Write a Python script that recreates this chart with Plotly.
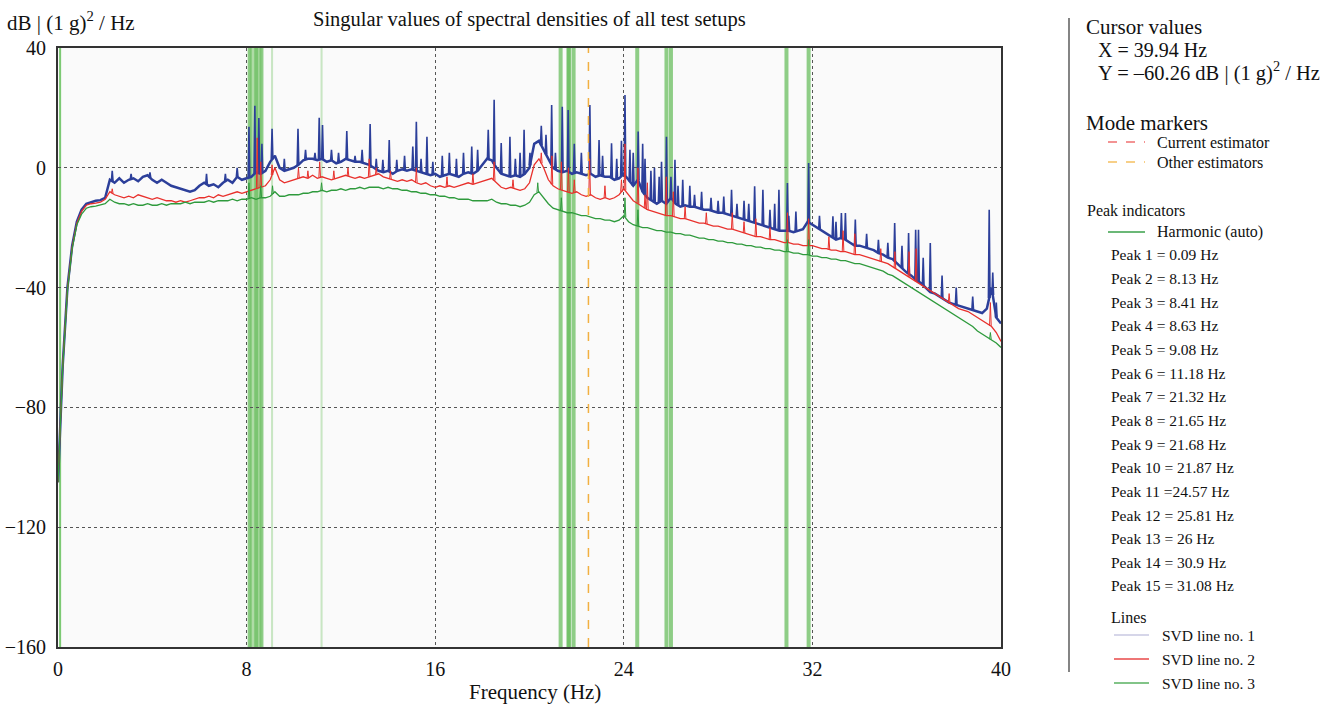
import numpy as np
import plotly.graph_objects as go

# ---------------- data ----------------
# base sampling grid of the spectra (Hz)
freq_grid = np.round(np.arange(0, 40.0001, 0.2), 1)

svd1_base = [
    -105, -66, -40, -26, -18, -14, -12, -11.5, -11, -10.8,
    -10, -4, -5, -3.5, -5, -4, -3.5, -4.5, -3, -2.5,
    -4, -5, -4, -5, -6, -6.5, -7, -7.5, -8, -7.5,
    -6, -5, -6, -5.5, -6.5, -5, -4, -5, -3, -4,
    -3.5, -3, -1.5, -2, -1, 2, 4, 0, -1, -0.5,
    0, 1, 2.5, 3, 3, 2.5, 3, 2, 2.5, 1.5,
    2, 3, 2.5, 2, 2, 1.5, 1, 0, -1, -1.5,
    -1, -2, -1, -0.5, -1, -0.5, -1, -1.5, -2, -2.5,
    -2, -3, -2.5, -2, -2.5, -3, -2, -1.5, -2, -1,
    1, 3, 2.5, 0, -2, -2.5, -3, -2.5, -3, -2,
    0, 8, 9, 6, 3, 0, -1, -1.5, -1, -2,
    -1.5, -2, -2.5, -2, -3, -2.5, -3, -3, -4, -3.5,
    -2, -4, -6, -4, -8, -10, -11, -12, -11, -12,
    -10, -12, -13, -12.5, -13, -13, -13.5, -14, -14, -14.5,
    -15, -15, -15.5, -16, -16.5, -17, -17.5, -18, -18.5, -19,
    -19.5, -20, -20.5, -21, -21, -21, -21.5, -21, -20.5, -18,
    -19, -20, -21, -22, -23, -24, -23.5, -24, -25, -26,
    -26, -26.5, -27, -27.5, -28.5, -29, -30, -30.5, -32, -33.5,
    -35, -36, -37.5, -38.5, -40, -41.5, -42, -43, -44, -45,
    -45.5, -46, -46.5, -47, -47.5, -48, -48.5, -47, -40, -50,
    -52,
]
svd2_base = [
    -105, -66, -40.5, -26.5, -18.5, -14.5, -12.5, -12, -11.8, -11.5,
    -10.5, -8, -9, -9.5, -10, -9.5, -10, -9, -9.5, -10,
    -10.5, -10, -10.5, -11, -11, -11.5, -11, -11.5, -11, -10.5,
    -10, -10, -9.5, -10, -9, -9.5, -9, -8.5, -8, -8.5,
    -8, -7.5, -7, -6.5, -6, -4, 0, -4, -5, -4.5,
    -4, -3.5, -3, -3.5, -2.5, -3.5, -3, -3.5, -4, -3.5,
    -3, -2.5, -3, -3.5, -3, -3.5, -3, -2.5, -2, -3,
    -3.5, -4, -4.5, -4, -4.5, -4, -5, -5.5, -5, -6,
    -6.5, -6, -6.5, -6, -6.5, -6, -5.5, -5, -5.5, -5,
    -4.5, -4, -3.5, -5, -6.5, -7, -6.5, -7, -7.5, -7,
    -5, 1, 3, 0, -4, -6, -7, -7.5, -8, -8.5,
    -8, -9, -9.5, -9, -10, -10.5, -10, -10.5, -10, -9,
    -7, -9, -11, -12, -13, -14, -14.5, -15, -15.5, -16,
    -16, -16.5, -17, -17, -17.5, -18, -18.5, -18.5, -19, -19.5,
    -19.5, -20, -20.5, -20.5, -21, -21.5, -22, -22.5, -23, -23,
    -23.5, -24, -24, -24.5, -25, -25, -25.5, -25.5, -26, -26,
    -26, -26.5, -27, -27, -27.5, -27.5, -28, -28, -28.5, -29,
    -29, -29.5, -30, -30.5, -31, -31.5, -32, -33, -34, -35,
    -36, -37, -38, -39, -40, -41, -42, -43, -44, -45,
    -46, -47, -47.5, -48, -49, -50, -51, -52, -53, -55,
    -58,
]
svd3_base = [
    -105, -66.5, -41, -27, -19, -15.5, -13.5, -13, -12.8, -12.5,
    -12, -10.5, -11.5, -12, -12, -12.5, -12, -12.5, -12.5, -12,
    -12.5, -12.5, -12, -12.5, -12, -12, -12, -11.5, -12, -11.5,
    -11.5, -11.5, -11, -11.5, -11, -11, -11, -10.5, -11, -10.5,
    -10.5, -10, -10.5, -10, -10, -9.5, -8, -9.5, -9.5, -9,
    -9, -9, -8.5, -8.5, -8, -8, -7.5, -8, -7.5, -7.5,
    -7, -7.5, -7, -7, -6.5, -7, -6.5, -6.5, -6.5, -7,
    -6.5, -7, -7, -7.5, -7.5, -8, -8, -8.5, -8.5, -9,
    -9, -9.5, -9.5, -10, -10, -10.5, -10.5, -10.5, -11, -11,
    -11, -11, -10.5, -11.5, -12, -12, -12.5, -12.5, -13, -12.5,
    -11.5, -9, -8, -10, -12, -13.5, -14, -14.5, -15, -15,
    -15.5, -16, -16, -16.5, -17, -17, -17.5, -17.5, -18, -17.5,
    -16, -18, -19, -19.5, -20, -20, -20.5, -21, -21, -21.5,
    -21.5, -22, -22, -22.5, -22.5, -23, -23.5, -23.5, -24, -24,
    -24.5, -24.5, -25, -25, -25.5, -25.5, -26, -26, -26.5, -26.5,
    -27, -27, -27.5, -27.5, -28, -28, -28.5, -28.5, -29, -29,
    -29.5, -29.5, -30, -30, -30.5, -30.5, -31, -31, -31.5, -32,
    -32, -32.5, -33, -33.5, -34, -34.5, -35.5, -36, -37, -38,
    -39, -40, -41, -42, -43, -44, -45, -46, -47, -48,
    -49, -50, -51, -52, -53, -54.5, -55.5, -56.5, -57.5, -58.5,
    -60,
]

# narrow spectral peaks (frequency Hz, level dB)
svd1_peak_f = [8.1, 8.35, 8.52, 8.65, 9.08, 10.18, 11.08, 11.22, 12.25, 13.24, 13.78,
               14.05, 14.37, 15.05, 15.2, 15.65, 16.6, 17.55, 18.25, 18.5, 18.8, 19.17,
               19.77, 20.02, 20.94, 21.39, 21.64, 22.56, 22.95, 23.48, 24.05, 24.26,
               24.61, 24.9, 25.15, 25.5, 25.81, 26.17, 26.5, 26.8, 27.3, 28.24, 28.57,
               29.1, 29.55, 29.9, 30.58, 30.94, 31.3, 31.84, 32.87, 33.23, 33.4, 33.82,
               35.49, 36.08, 36.38, 36.5, 37.0, 39.5, 39.65,
               2.3, 3.1, 3.9, 6.3, 7.1, 7.6, 9.6, 10.5, 10.9, 11.6, 11.9, 12.6, 12.9,
               13.5, 14.7, 15.4, 15.9, 16.3, 16.9, 17.2, 17.8, 19.4, 19.6, 20.5, 20.7,
               21.1, 21.9, 22.2, 23.1, 23.7, 23.9, 24.4, 24.8, 25.3, 25.6, 26.0, 26.3,
               27.0, 27.7, 28.0, 28.8, 29.3, 30.2, 30.4, 31.0, 32.3, 33.0, 34.3, 34.8,
               35.2, 35.8, 36.7, 37.5, 38.1, 38.8, 39.8]
svd1_peak_db = [13.7, 20.7, 16.6, 8, 13, 13, 16.7, 14.3, 12.3, 14.6, 2.7,
                9.3, 2.7, 7.1, 15.4, 10.4, 5, 7.1, 12.7, 22.7, 8.3, 10.4,
                12.7, 5, 21, 20.4, 19.3, 21, 9.3, 8.2, 24.3, 6,
                12.1, 3, -1, -3, 10.4, 2.7, -4, -6, -8, -9.6, -7.3,
                -11, -6.2, -7.3, -7.3, -5.1, -14.6, 1.6, -16.2, -15.1, -15.1, -17.3,
                -18.4, -21.8, -20.7, -20.7, -25.1, -14, -35,
                -1, -2, -1.5, -2, -2, 0, 3, 6, 5, 6, 5, 4, 6,
                3, 4, 3, 2, 4, 3, 5, 6, 3, 5, 14, 11,
                5, 8, 5, 4, 3, 9, 5, 8, 0, 2, -3, -6,
                -9, -10, -11, -12, -12, -14, -12, -16, -16, -18, -22, -24,
                -25, -26, -30, -36, -40, -43, -45]

svd2_peak_f = [8.45, 8.6, 9.08, 10.2, 11.1, 12.3, 13.2, 15.2, 18.5, 20.95, 21.35,
               21.65, 22.55, 24.05, 24.6, 25.0, 25.8, 26.1, 28.6, 29.6, 30.94, 31.84,
               33.3, 33.8, 36.1, 36.4, 39.55,
               2.3, 10.6, 11.7, 13.5, 14.1, 16.5, 17.6, 19.3, 20.5, 21.9, 23.2, 23.9,
               24.9, 26.6, 27.5, 29.1, 30.2, 32.7, 34.9, 35.5, 37.8]
svd2_peak_db = [10, 2, 1, 0, 2, 0, 3, 0, 2, 4, 2,
                0, 3, 8, 0, -5, -3, -8, -15, -17, -15, -17,
                -21, -22, -28, -27, -45,
                -7, -1, -1, 0, -1, -3, -2, -4, 5, -4, -6, -4,
                -9, -13, -15, -18, -20, -23, -27, -28, -42]

svd3_peak_f = [8.1, 8.6, 9.1, 11.18, 20.35, 21.35, 24.05, 24.6, 30.94, 31.84, 39.55]
svd3_peak_db = [-5, -6, -6, -5, -5, -10, -10, -14, -24, -24, -55]

peak_labels = ["0.09", "8.13", "8.41", "8.63", "9.08", "11.18", "21.32", "21.65",
               "21.68", "21.87", "24.57", "25.81", "26", "30.9", "31.08"]
# positions of the peak indicator lines as drawn in the chart (Hz)
peak_line_freqs = [0.09, 8.13, 8.41, 8.63, 9.08, 11.18, 21.32, 21.65, 21.68, 21.87,
                   24.57, 25.81, 26.0, 30.9, 31.84]
faint_peaks = [9.08, 11.18]
other_estimator_freq = 22.5

cursor_x = "39.94"
cursor_y = "60.26"

# ---------------- figure ----------------
W, H = 1342, 705
L, R, T, B = 58, 341, 48, 58
PW, PH = W - L - R, H - T - B


def px(x):
    return (x - L) / PW


def py(y):
    return (H - B - y) / PH


def needles(pf, pv, base, half=0.035):
    xs, ys = [], []
    for f, v in zip(pf, pv):
        foot = float(np.interp(f, freq_grid, base))
        xs += [f - half, f, f + half, None]
        ys += [foot, v, foot, None]
    return xs, ys


BLUE = "#2c3f9a"
RED = "#e8302c"
GREEN = "#2e9a3c"
PEAKGREEN = "rgba(105,190,95,0.75)"

fig = go.Figure()
traces = [
    (svd1_base, svd1_peak_f, svd1_peak_db, BLUE, 2.5, 1.6),
    (svd2_base, svd2_peak_f, svd2_peak_db, RED, 1.3, 1.0),
    (svd3_base, svd3_peak_f, svd3_peak_db, GREEN, 1.3, 1.0),
]
for base, pf, pv, col, w, wn in traces:
    fig.add_trace(go.Scatter(x=freq_grid, y=base, mode="lines", line=dict(color=col, width=w),
                             showlegend=False, hoverinfo="skip"))
    nx, ny = needles(pf, pv, base)
    fig.add_trace(go.Scatter(x=nx, y=ny, mode="lines", line=dict(color=col, width=wn),
                             showlegend=False, hoverinfo="skip", connectgaps=False))

shapes = []
# band between close peaks 2..4
shapes.append(dict(type="rect", xref="x", yref="paper", x0=peak_line_freqs[1], x1=peak_line_freqs[3],
                   y0=0, y1=1, fillcolor="rgba(125,200,110,0.6)", line=dict(width=0), layer="below"))
for f in peak_line_freqs:
    if f in faint_peaks:
        col, w = "rgba(150,210,140,0.5)", 2
    elif f < 1:
        col, w = "rgba(110,195,100,0.9)", 2
    else:
        col, w = PEAKGREEN, 4
    shapes.append(dict(type="line", xref="x", yref="paper", x0=f, x1=f, y0=0, y1=1,
                       line=dict(color=col, width=w), layer="below"))
shapes.append(dict(type="line", xref="x", yref="paper", x0=other_estimator_freq, x1=other_estimator_freq,
                   y0=0, y1=1, line=dict(color="#f2b040", width=1.5, dash="dash"), layer="above"))

# right legend separator
shapes.append(dict(type="line", xref="paper", yref="paper", x0=px(1069), x1=px(1069), y0=py(18), y1=py(672),
                   line=dict(color="#333", width=1.2)))
# legend sample lines
for y, col, dash, x0, x1 in [
    (142, "#f07070", "dash", 1108, 1145),
    (162, "#f5c060", "dash", 1108, 1145),
    (232, "#3aa04a", "solid", 1108, 1145),
    (635, "#c8c8e2", "solid", 1114, 1149),
    (659, "#e84848", "solid", 1114, 1149),
    (683, "#58b060", "solid", 1114, 1149),
]:
    shapes.append(dict(type="line", xref="paper", yref="paper", x0=px(x0), x1=px(x1), y0=py(y), y1=py(y),
                       line=dict(color=col, width=1.5, dash=dash)))

FONT = "Liberation Serif"
ann = []


def text(x, y, s, size, anchor="left"):
    ann.append(dict(x=px(x), y=py(y), xref="paper", yref="paper", text=s, showarrow=False,
                    xanchor=anchor, yanchor="middle", borderpad=0,
                    font=dict(family=FONT, size=size, color="#111")))


text(6, 22, "dB | (1 g)<sup>2</sup> / Hz", 21)
text(529, 20, "Singular values of spectral densities of all test setups", 20.5, "center")
text(535, 692, "Frequency (Hz)", 21, "center")
text(1085, 27, "Cursor values", 21)
text(1097, 50, "X = " + cursor_x + " Hz", 20)
text(1097, 72, "Y = \u2013" + cursor_y + " dB | (1 g)<sup>2</sup> / Hz", 20.5)
text(1085, 123, "Mode markers", 21)
text(1156, 142, "Current estimator", 16)
text(1156, 162, "Other estimators", 16)
text(1086, 210, "Peak indicators", 16)
text(1156, 232, "Harmonic (auto)", 16)
for i, lab in enumerate(peak_labels):
    sep = " =" if i == 10 else " = "
    text(1110, 255 + i * 23.64, "Peak %d%s%s Hz" % (i + 1, sep, lab), 15.5)
text(1110, 617, "Lines", 16)
for i, y in enumerate([635, 659, 683]):
    text(1161, y, "SVD line no. %d" % (i + 1), 15.5)

fig.update_layout(
    width=W, height=H, margin=dict(l=L, r=R, t=T, b=B, autoexpand=False),
    paper_bgcolor="white", plot_bgcolor="#fafafa",
    shapes=shapes, annotations=ann, showlegend=False,
    font=dict(family=FONT, size=20, color="#111"),
)
fig.update_xaxes(range=[0, 40], tickvals=[0, 8, 16, 24, 32, 40], showgrid=True,
                 gridcolor="#555", griddash="dot", gridwidth=1.3, zeroline=False,
                 showline=True, linecolor="#333", linewidth=2, mirror=True, ticks="",
                 tickfont=dict(family=FONT, size=20), ticklabelstandoff=3, automargin=False)
fig.update_yaxes(range=[-160, 40], tickvals=[-160, -120, -80, -40, 0, 40], showgrid=True,
                 gridcolor="#555", griddash="dot", gridwidth=1.3, zeroline=False,
                 showline=True, linecolor="#333", linewidth=2, mirror=True, ticks="",
                 tickfont=dict(family=FONT, size=20), ticklabelstandoff=6, automargin=False)

fig.write_html("out.html")
